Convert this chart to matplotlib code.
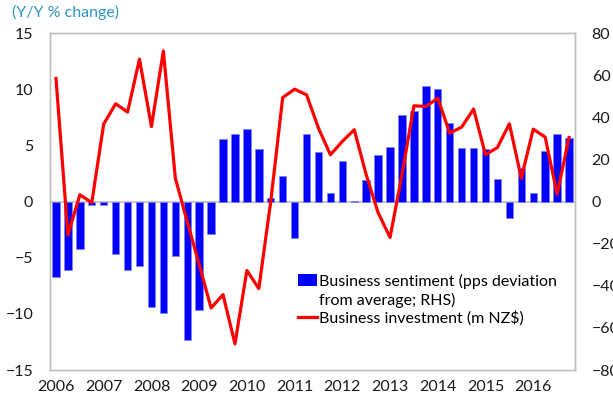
import matplotlib
matplotlib.use("Agg")
import matplotlib.pyplot as plt
from matplotlib.patches import Patch, Rectangle
from matplotlib.lines import Line2D
from matplotlib.legend_handler import HandlerPatch

plt.rcParams['font.family'] = ['Lato', 'DejaVu Sans']

years = ['2006', '2007', '2008', '2009', '2010', '2011', '2012', '2013', '2014', '2015', '2016']

# Business sentiment (pps deviation from average; RHS), quarterly 2006Q1-2016Q4
sentiment = [-35.8, -32.3, -22.7, -1.6, -1.6, -24.8, -32.4, -30.4,
             -50.1, -53.0, -25.9, -65.7, -51.4, -15.3, 29.6, 32.2,
             34.4, 24.8, 1.7, 12.0, -17.5, 32.2, 23.7, 4.0,
             19.3, 0.4, 10.3, 22.2, 26.0, 41.0, 43.1, 55.0,
             53.4, 37.2, 25.5, 25.5, 24.9, 10.6, -7.6, 15.8,
             4.0, 23.9, 31.9, 30.0]

# Business investment, Y/Y % change (LHS)
investment = [10.96, -2.98, 0.6, -0.1, 6.9, 8.7, 7.96, 12.67,
              6.67, 13.4, 2.1, -1.8, -5.6, -9.48, -8.29, -12.67,
              -6.14, -7.75, 0.0, 9.25, 10.0, 9.5, 6.53, 4.16,
              5.35, 6.39, 2.38, -1.0, -3.2, 2.4, 8.52, 8.46,
              9.2, 6.09, 6.62, 8.23, 4.16, 4.81, 6.92, 2.08,
              6.44, 5.73, 0.65, 5.7]

x = list(range(len(investment)))
grey = '#BFBFBF'
fs = 11.5


class TopPatchHandler(HandlerPatch):
    """Draw the patch handle level with the first line of a two-line label."""
    def create_artists(self, legend, orig_handle, xdescent, ydescent,
                       width, height, fontsize, trans):
        shift = 0.5 * 1.35 * fontsize
        p = Rectangle((-xdescent, -ydescent + shift), width, height)
        self.update_prop(p, orig_handle, legend)
        p.set_transform(trans)
        return [p]


fig = plt.figure(figsize=(6.13, 4.05), dpi=100)
ax = fig.add_axes([0.0816, 0.0864, 0.8564, 0.8321])
ax2 = ax.twinx()

ax2.bar(x, sentiment, width=0.62, color='#0000FF', edgecolor='#7F7FFF', linewidth=0.5, zorder=2)
ax2.set_ylim(-80, 80)
ax2.set_yticks(range(-80, 81, 20))

ax.plot(x, investment, color='#FF0000', linewidth=2.3, zorder=3)
ax.set_ylim(-15, 15)
ax.set_yticks(range(-15, 16, 5))
ax.set_xlim(-0.5, len(x) - 0.5)
ax.set_xticks(range(0, len(x), 4))
ax.set_xticklabels(years)

ax.set_zorder(ax2.get_zorder() + 1)
ax.patch.set_visible(False)

ax2.axhline(0, color=grey, linewidth=1.2, zorder=1)

for a in (ax, ax2):
    for s in a.spines.values():
        s.set_color(grey)
        s.set_linewidth(1.0)
    a.tick_params(length=0, labelsize=fs, colors='#1a1a1a')
ax.tick_params(axis='y', pad=12)
ax.tick_params(axis='x', pad=7)
ax2.tick_params(axis='y', pad=12)

fig.text(0.02, 0.988, '(Y/Y % change)', color='#2E95C4', fontsize=fs, va='top', ha='left')

bar_handle = Patch(facecolor='#0000FF', edgecolor='none')
handles = [bar_handle, Line2D([0], [0], color='#FF0000', linewidth=2.3)]
labels = ['Business sentiment (pps deviation\nfrom average; RHS)', 'Business investment (m NZ$)']
leg = ax.legend(handles, labels, loc='upper left', bbox_to_anchor=(0.46, 0.305),
                frameon=False, fontsize=fs, handlelength=1.2, handletextpad=0.12,
                labelspacing=0.15, borderaxespad=0,
                handler_map={bar_handle: TopPatchHandler()})
leg.get_texts()[0].set_linespacing(1.35)

fig.savefig('out.png', dpi=100)
